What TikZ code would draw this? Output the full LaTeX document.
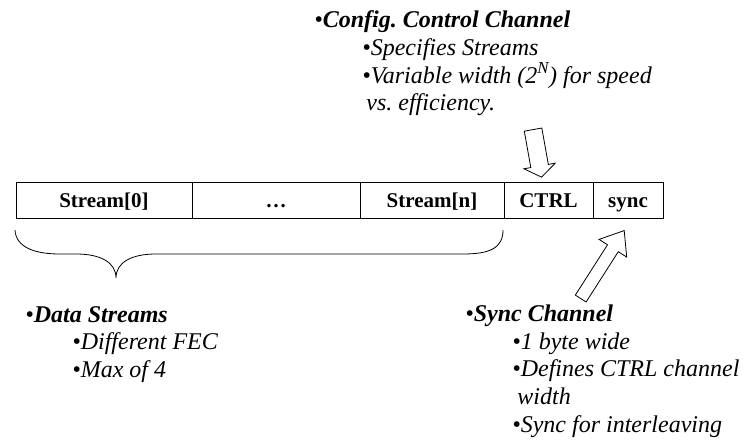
\documentclass[tikz,border=0pt]{standalone}
\usepackage{fontspec}
\setmainfont{Liberation Serif}
\usetikzlibrary{shapes.arrows}
\frenchspacing

\begin{document}
\begin{tikzpicture}[x=1pt,y=-1pt,line width=0.8pt,
    blockarrow/.style={single arrow,draw=black,inner xsep=0pt,minimum width=1pt}]
    \useasboundingbox (0,0) rectangle (743,442);
    \begin{scope}[every node/.style={rectangle,draw=black,minimum height=36pt,inner sep=0pt,
            text height=14pt,text depth=0pt,font=\fontsize{21}{25}\selectfont\bfseries}]
        \node (S0) [minimum width=176pt] at (104,200.5) {Stream[0]};
        \node (Dots) [minimum width=168pt] at (276,200.5) {…};
        \node (Sn) [minimum width=144pt] at (432,200.5) {Stream[n]};
        \node (Ctrl) [minimum width=89pt] at (548.5,200.5) {CTRL};
        \node (Sync) [minimum width=70pt] at (628,200.5) {sync};
    \end{scope}
    \begin{scope}[every node/.style={anchor=north west,inner sep=0pt,align=left,font=\fontsize{24}{27.6}\selectfont\itshape}]
        \node (CfgText) at (314,10.5) {•\textbf{Config. Control Channel}\\
            \hspace*{48pt}•Specifies Streams\\
            \hspace*{48pt}•Variable width (2\textsuperscript{N}) for speed\\
            \hspace*{52pt}vs. efficiency.};
        \node (DataText) at (25,305.8) {•\textbf{Data Streams}\\
            \hspace*{47pt}•Different FEC\\
            \hspace*{47pt}•Max of 4};
        \node (SyncText) at (465,304.6) {•\textbf{Sync Channel}\\
            \hspace*{47pt}•1 byte wide\\
            \hspace*{47pt}•Defines CTRL channel\\
            \hspace*{52pt}width\\
            \hspace*{47pt}•Sync for interleaving};
    \end{scope}
    \node (CtrlArrow) [blockarrow,minimum height=48.3pt,inner ysep=8.5pt,
        single arrow head extend=7pt,single arrow tip angle=109,rotate=-79.85] at (536.75,150.25) {};
    \node (SyncArrow) [blockarrow,minimum height=80.7pt,inner ysep=6pt,
        single arrow head extend=10pt,single arrow tip angle=76,rotate=57.4] at (600.25,268) {};
    \draw (15,230) .. controls (16,248) and (36,254) .. (60,254) -- (76,254)
        .. controls (100,254) and (116,262) .. (116,278)
        .. controls (116,262) and (132,254) .. (156,254) -- (463,254)
        .. controls (490,254) and (503,248) .. (503,230);
\end{tikzpicture}
\end{document}
